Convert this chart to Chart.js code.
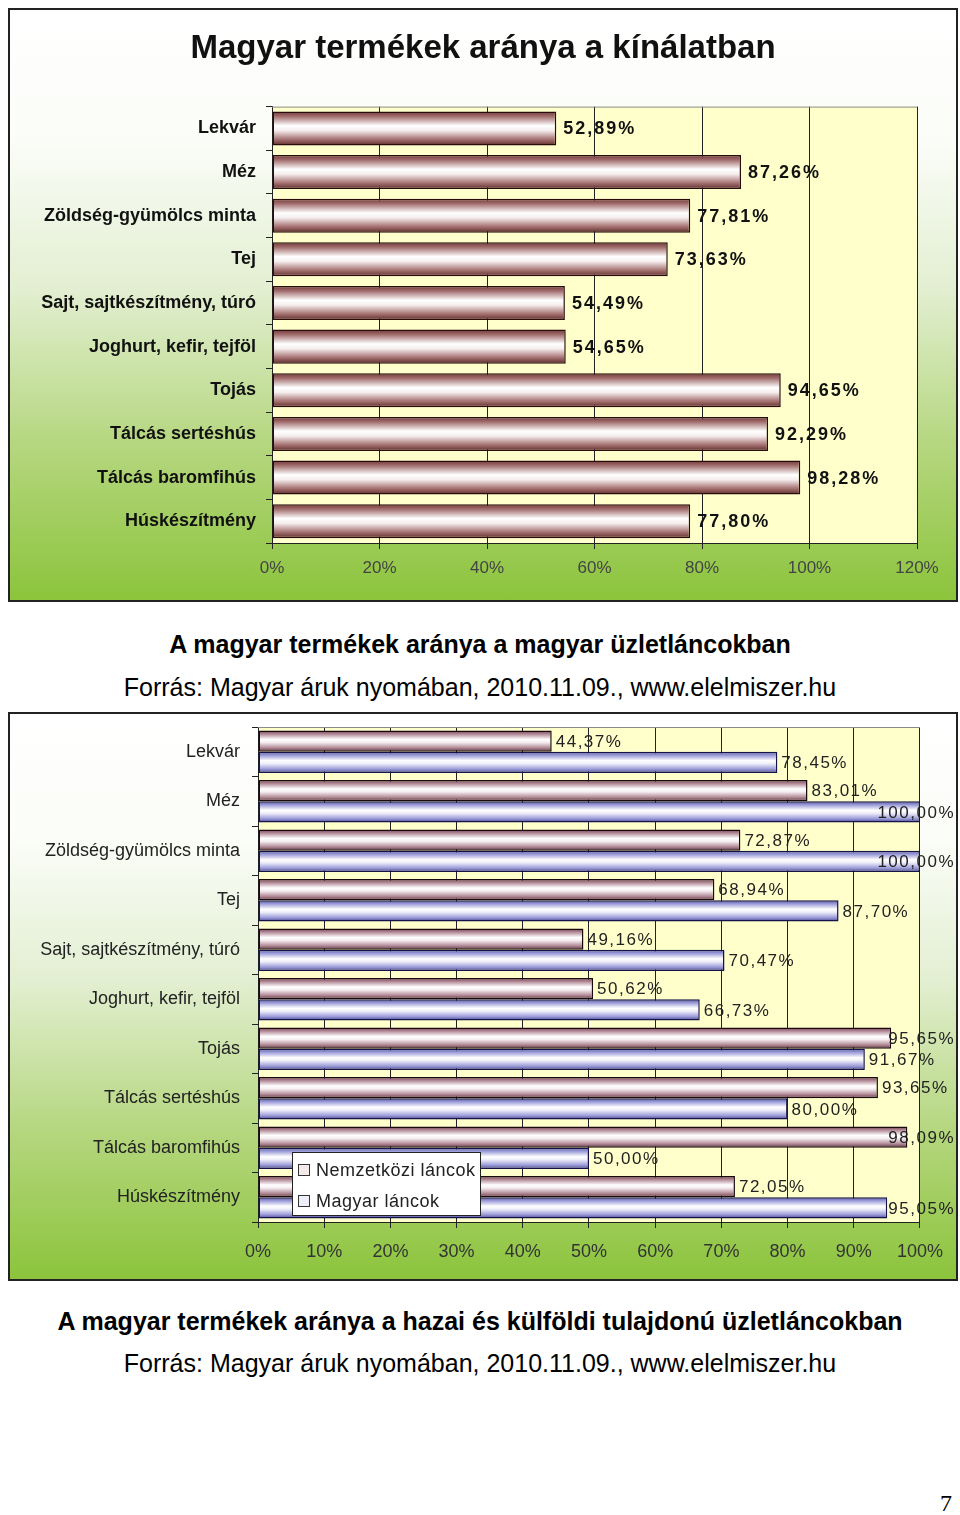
<!DOCTYPE html>
<html>
<head>
<meta charset="utf-8">
<script src="https://cdn.jsdelivr.net/npm/chart.js@4.4.0/dist/chart.umd.min.js"></script>
<style>
  body { margin: 0; width: 960px; height: 1515px; background: #fff; position: relative; font-family: "Liberation Sans", Arial, sans-serif; }
  .box { position: absolute; left: 8px; width: 946px; border: 2px solid #222;
    background: linear-gradient(to bottom, #ffffff 0%, #fbfdf8 22%, #e3efd2 47%, #b6d781 73%, #8cc43c 100%); }
  #box1 { top: 8px; height: 590px; }
  #box2 { top: 712px; height: 565px; }
  .cap { position: absolute; left: 0; width: 960px; text-align: center; color: #000; font-size: 25px; line-height: 28px; white-space: nowrap; }
  .b { font-weight: bold; }
  #page { position: absolute; left: 940px; top: 1490px; font-family: "Liberation Serif", serif; font-size: 24px; }
</style>
</head>
<body>
<div class="box" id="box1"><canvas id="chart1" width="946" height="590"></canvas></div>
<div class="cap b" style="top:630px">A magyar termékek aránya a magyar üzletláncokban</div>
<div class="cap" style="top:673px">Forrás: Magyar áruk nyomában, 2010.11.09., www.elelmiszer.hu</div>

<div class="box" id="box2"><canvas id="chart2" width="946" height="565"></canvas></div>
<div class="cap b" style="top:1307px">A magyar termékek aránya a hazai és külföldi tulajdonú üzletláncokban</div>
<div class="cap" style="top:1349px">Forrás: Magyar áruk nyomában, 2010.11.09., www.elelmiszer.hu</div>
<div id="page">7</div>

<script>
  // chart 1 data
  const title1 = "Magyar termékek aránya a kínálatban";
  const products = [
    "Lekvár", "Méz", "Zöldség-gyümölcs minta", "Tej", "Sajt, sajtkészítmény, túró",
    "Joghurt, kefir, tejföl", "Tojás", "Tálcás sertéshús", "Tálcás baromfihús", "Húskészítmény"
  ];
  const shareAll = [52.89, 87.26, 77.81, 73.63, 54.49, 54.65, 94.65, 92.29, 98.28, 77.80];

  // chart 2 data
  const seriesNames = ["Nemzetközi láncok", "Magyar láncok"];
  const shareIntl = [44.37, 83.01, 72.87, 68.94, 49.16, 50.62, 95.65, 93.65, 98.09, 72.05];
  const shareHun = [78.45, 100.00, 100.00, 87.70, 70.47, 66.73, 91.67, 80.00, 50.00, 95.05];

  Chart.defaults.font.family = "'Liberation Sans', Arial, sans-serif";
  Chart.defaults.animation = false;

  // tube-like fill, light in the middle, dark at the edges
  function cylinder(stops, fallback) {
    return function (c) {
      const el = c.element;
      if (!el || el.y == null || !el.height) return fallback;
      const top = el.y - el.height / 2;
      const g = c.chart.ctx.createLinearGradient(0, top, 0, top + el.height);
      stops.forEach(s => g.addColorStop(s[0], s[1]));
      return g;
    };
  }
  const brown = [[0, '#6e3838'], [0.14, '#a06a6a'], [0.42, '#ffffff'], [0.56, '#f6eeee'], [0.82, '#a67272'], [1, '#5e2c2c']];
  const mauve = [[0, '#6a3c4c'], [0.14, '#a87c8a'], [0.42, '#ffffff'], [0.56, '#f6eef2'], [0.82, '#b08894'], [1, '#5a3040']];
  const blue = [[0, '#50509e'], [0.14, '#9090d4'], [0.42, '#ffffff'], [0.56, '#eeeefa'], [0.82, '#9a9ad8'], [1, '#44448e']];

  const plotBg = {
    id: 'plotBg',
    afterLayout(chart) {
      // centre the title over the whole canvas, not just the padded box
      if (chart.titleBlock) {
        chart.titleBlock.left = 0;
        chart.titleBlock.right = chart.width;
      }
    },
    beforeDraw(chart) {
      const a = chart.chartArea, ctx = chart.ctx;
      ctx.save();
      ctx.fillStyle = '#ffffcc';
      ctx.fillRect(a.left, a.top, a.right - a.left, a.bottom - a.top);
      ctx.restore();
    },
    afterDraw(chart) {
      const a = chart.chartArea, ctx = chart.ctx;
      ctx.save();
      ctx.strokeStyle = '#8a8a8a';
      ctx.lineWidth = 1;
      ctx.beginPath();
      ctx.moveTo(a.left, a.top + 0.5);
      ctx.lineTo(a.right, a.top + 0.5);
      ctx.stroke();
      ctx.restore();
    }
  };

  const valueLabels = {
    id: 'valueLabels',
    afterDatasetsDraw(chart, args, opts) {
      const ctx = chart.ctx;
      ctx.save();
      ctx.font = opts.font;
      ctx.fillStyle = opts.color;
      ctx.letterSpacing = opts.spacing;
      ctx.textBaseline = 'middle';
      chart.data.datasets.forEach((ds, i) => {
        chart.getDatasetMeta(i).data.forEach((bar, j) => {
          const txt = ds.data[j].toFixed(2).replace('.', ',') + '%';
          const w = ctx.measureText(txt).width;
          let x = bar.x + opts.offset;
          if (x + w > opts.maxX) x = opts.maxX - w;
          ctx.fillText(txt, x, bar.y + 1);
        });
      });
      ctx.restore();
    }
  };

  const boxLegend = {
    id: 'boxLegend',
    afterDraw(chart, args, opts) {
      if (!opts.show) return;
      const ctx = chart.ctx;
      ctx.save();
      ctx.fillStyle = '#fff';
      ctx.strokeStyle = '#222';
      ctx.lineWidth = 1;
      ctx.fillRect(opts.x, opts.y, opts.w, opts.h);
      ctx.strokeRect(opts.x + 0.5, opts.y + 0.5, opts.w, opts.h);
      ctx.font = opts.font;
      ctx.letterSpacing = '0.5px';
      ctx.textBaseline = 'middle';
      chart.data.datasets.forEach((ds, i) => {
        const cy = opts.y + opts.firstRow + i * opts.rowGap;
        ctx.fillStyle = i === 0 ? '#f4eaea' : '#eeeefa';
        ctx.fillRect(opts.x + 6, cy - 6, 12, 12);
        ctx.strokeStyle = '#333';
        ctx.strokeRect(opts.x + 6.5, cy - 5.5, 11, 11);
        ctx.fillStyle = '#222';
        ctx.fillText(ds.label, opts.x + 24, cy + 1);
      });
      ctx.restore();
    }
  };

  const noEndPad = s => { s.paddingTop = 0; s.paddingBottom = 0; };

  // chart 1: one series
  new Chart(document.getElementById('chart1'), {
    type: 'bar',
    data: {
      labels: products,
      datasets: [{
        label: title1,
        data: shareAll,
        backgroundColor: cylinder(brown, '#b08080'),
        borderColor: '#2a0c0c',
        borderWidth: 1.5,
        borderSkipped: false,
        categoryPercentage: 0.78,
        barPercentage: 1
      }]
    },
    options: {
      indexAxis: 'y',
      responsive: false,
      layout: { padding: { top: 0, right: 39, bottom: 17, left: 0 } },
      plugins: {
        legend: { display: false },
        tooltip: { enabled: false },
        title: {
          display: true, text: title1, color: '#111',
          font: { size: 33, weight: 'bold' },
          padding: { top: 19, bottom: 38 }
        },
        valueLabels: { font: "bold 18px 'Liberation Sans', Arial", color: '#111', spacing: '2px', offset: 7, maxX: 944 },
        boxLegend: { show: false }
      },
      scales: {
        x: {
          min: 0, max: 120,
          ticks: { stepSize: 20, callback: v => v + '%', color: '#444', font: { size: 17 }, padding: 9 },
          grid: { color: '#222', lineWidth: 1, tickLength: 6, drawTicks: true },
          border: { color: '#222' },
          afterFit: s => { s.height = 40; }
        },
        y: {
          ticks: { color: '#111', font: { size: 18, weight: 'bold' }, padding: 10 },
          grid: { drawOnChartArea: false, offset: true, tickLength: 6, color: '#222' },
          border: { color: '#222' },
          afterFit: s => { s.width = 262; noEndPad(s); }
        }
      }
    },
    plugins: [plotBg, valueLabels, boxLegend]
  }).update();

  // chart 2: international vs Hungarian chains
  new Chart(document.getElementById('chart2'), {
    type: 'bar',
    data: {
      labels: products,
      datasets: [{
        label: seriesNames[0],
        data: shareIntl,
        backgroundColor: cylinder(mauve, '#c09aa8'),
        borderColor: '#1a0a10',
        borderWidth: 1.5,
        borderSkipped: false,
        categoryPercentage: 0.86,
        barPercentage: 1
      }, {
        label: seriesNames[1],
        data: shareHun,
        backgroundColor: cylinder(blue, '#a8a8e0'),
        borderColor: '#14144a',
        borderWidth: 1.5,
        borderSkipped: false,
        categoryPercentage: 0.86,
        barPercentage: 1
      }]
    },
    options: {
      indexAxis: 'y',
      responsive: false,
      layout: { padding: { top: 13, right: 35, bottom: 17, left: 0 } },
      plugins: {
        legend: { display: false },
        tooltip: { enabled: false },
        valueLabels: { font: "17px 'Liberation Sans', Arial", color: '#222', spacing: '1.5px', offset: 4, maxX: 945 },
        boxLegend: { show: true, x: 282, y: 438, w: 188, h: 63, firstRow: 18, rowGap: 31, font: "18px 'Liberation Sans', Arial" }
      },
      scales: {
        x: {
          min: 0, max: 100,
          ticks: { stepSize: 10, callback: v => v + '%', color: '#333', font: { size: 18 }, padding: 13 },
          grid: { color: '#222', lineWidth: 1, tickLength: 6, drawTicks: true },
          border: { color: '#222' },
          afterFit: s => { s.height = 40; }
        },
        y: {
          ticks: { color: '#222', font: { size: 18 }, padding: 12 },
          grid: { drawOnChartArea: false, offset: true, tickLength: 6, color: '#222' },
          border: { color: '#222' },
          afterFit: s => { s.width = 248; noEndPad(s); }
        }
      }
    },
    plugins: [plotBg, valueLabels, boxLegend]
  }).update();
</script>
</body>
</html>
